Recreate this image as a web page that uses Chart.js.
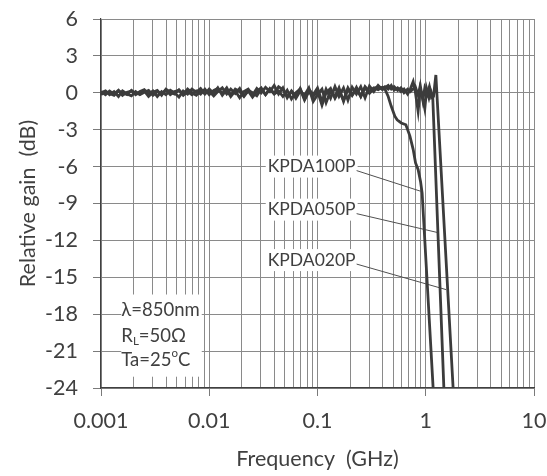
<!DOCTYPE html>
<html>
<head>
<meta charset="utf-8">
<script src="https://cdn.jsdelivr.net/npm/chart.js@4.4.1/dist/chart.umd.min.js"></script>
<style>
  html, body { margin: 0; padding: 0; background: #ffffff; }
  #wrap { width: 547px; height: 476px; }
</style>
</head>
<body>
<div id="wrap"><canvas id="c" width="547" height="476"></canvas></div>
<script>
// ---------------- data ----------------
const seriesNames = ['KPDA020P', 'KPDA050P', 'KPDA100P'];

// shared frequency points of the flat region (GHz)
const freqFlat = [
  0.00100, 0.00110, 0.00120, 0.00132, 0.00145, 0.00158, 0.00174, 0.00191, 0.00209, 0.00229,
  0.00251, 0.00275, 0.00302, 0.00331, 0.00363, 0.00398, 0.00437, 0.00479, 0.00525, 0.00575,
  0.00631, 0.00692, 0.00759, 0.00832, 0.00912,
  0.0100, 0.0110, 0.0120, 0.0132, 0.0145, 0.0158, 0.0174, 0.0191, 0.0209, 0.0229,
  0.0251, 0.0275, 0.0302, 0.0331, 0.0363, 0.0398, 0.0437, 0.0479, 0.0525, 0.0575,
  0.0631, 0.0692, 0.0759, 0.0832, 0.0912,
  0.100, 0.110, 0.120, 0.132, 0.145, 0.158, 0.174, 0.191, 0.209, 0.229,
  0.251, 0.275, 0.302, 0.331, 0.363, 0.398
];

const gainFlat020 = [
  0.1, -0.15, 0.15, -0.1, 0.2, -0.2, 0.05, 0.15, -0.15, 0.1,
  0.25, -0.1, 0.15, -0.3, 0.1, -0.15, 0.2, 0.0, -0.35, 0.15,
  -0.1, 0.3, 0.05, 0.35, -0.1,
  0.3, -0.05, 0.4, -0.2, 0.25, -0.3, 0.15, -0.4, 0.1, 0.3,
  -0.2, 0.35, 0.0, 0.45, 0.1, 0.6, -0.1, 0.4, -0.4, 0.15,
  -0.3, 0.35, -0.5, 0.3, -0.15,
  0.4, -0.7, 0.3, -0.45, 0.5, -0.3, 0.4, -0.6, 0.45, -0.1,
  0.5, -0.4, 0.55, 0.1, 0.6, 0.25
];
const gainFlat050 = [
  0.0, 0.15, -0.15, 0.1, -0.3, 0.15, -0.1, -0.25, 0.1, -0.15,
  0.05, 0.2, -0.2, 0.1, -0.1, 0.25, -0.15, 0.1, 0.2, -0.2,
  0.1, -0.15, 0.15, -0.1, 0.3,
  -0.15, 0.2, 0.35, -0.05, 0.4, -0.2, 0.3, 0.1, -0.3, 0.2,
  0.0, -0.25, 0.3, -0.15, 0.35, -0.05, 0.5, 0.25, -0.3, 0.1,
  -0.45, 0.15, -0.2, 0.4, -0.7,
  -0.15, 0.3, -0.8, 0.15, -0.3, 0.4, -0.7, 0.3, -0.2, 0.45,
  -0.3, 0.4, -0.05, 0.35, 0.5, 0.35
];
const gainFlat100 = [
  -0.15, 0.1, -0.05, -0.2, 0.15, 0.0, -0.15, 0.2, -0.05, -0.1,
  0.15, -0.3, 0.05, 0.2, -0.2, 0.3, 0.05, -0.1, 0.25, -0.15,
  0.3, 0.0, -0.2, 0.15, -0.05,
  0.15, -0.25, 0.1, 0.4, -0.1, 0.3, -0.05, 0.35, -0.25, 0.15,
  -0.35, 0.1, 0.4, -0.15, 0.3, -0.1, 0.15, -0.3, 0.2, -0.5,
  0.0, 0.3, -0.6, 0.1, -0.3,
  0.15, -1.0, 0.0, 0.35, -0.45, 0.15, -0.6, 0.4, -0.2, 0.3,
  -0.3, 0.5, 0.1, 0.4, 0.25, 0.45
];

// roll-off regions, each series its own frequency points
const freqTail020 = [0.420, 0.450, 0.480, 0.510, 0.550, 0.590, 0.630, 0.680, 0.720, 0.765,
                     0.800, 0.850, 0.890, 0.940, 0.980, 1.030, 1.080, 1.130, 1.180, 1.240, 1.790];
const gainTail020 = [0.4, 0.6, 0.3, 0.5, 0.2, 0.4, 0.0, 0.3, 0.1, 0.3,
                     0.5, -0.2, 0.6, -0.6, 0.4, -0.1, 0.5, -0.4, -0.3, 1.45, -24];
const freqTail050 = [0.420, 0.450, 0.480, 0.510, 0.550, 0.590, 0.630, 0.680, 0.720, 0.765,
                     0.800, 0.850, 0.890, 0.930, 0.980, 1.020, 1.070, 1.110, 1.160, 1.470];
const gainTail050 = [0.5, 0.3, 0.6, 0.2, 0.4, 0.1, 0.3, -0.1, 0.3, 0.9,
                     0.1, -1.5, 0.3, -0.3, -1.3, 0.3, -0.4, 0.2, -0.3, -24];
const freqTail100 = [0.420, 0.450, 0.480, 0.518, 0.544, 0.594, 0.655, 0.713, 0.765, 0.805,
                     0.851, 0.895, 0.926, 1.170];
const gainTail100 = [0.3, -0.3, -1.1, -1.9, -2.2, -2.45, -2.6, -3.5, -4.6, -5.7,
                     -6.25, -7.2, -8.15, -24];

// axis ticks
const xDecades = [0.001, 0.01, 0.1, 1, 10];
const xDecadeLabels = ['0.001', '0.01', '0.1', '1', '10'];
const xMinorSteps = [2, 3, 4, 5, 6, 7, 8, 9];
const yMin = -24, yMax = 6, yStep = 3;

// label annotations (data coordinates)
const labelLeftFreq = 0.0347;
const labelGain = [-13.6, -9.5, -6.0];
const leaderFreq = [1.54, 1.27, 0.895];
const leaderGain = [-16.0, -11.35, -8.0];

const condLeftFreq = 0.00154;
const condGain = [-17.7, -19.8, -21.7];
const condLines = [
  [['λ=850nm', 'n']],
  [['R', 'n'], ['L', 'sub'], ['=50Ω', 'n']],
  [['Ta=25', 'n'], ['o', 'sup'], ['C', 'n']]
];

// ---------------- styling ----------------
const FONT = 'Lato, "Open Sans", "DejaVu Sans", sans-serif';
const TEXT = '#404040';
const LINE = '#3c3c3c';
const GRID = '#8a8a8a';
const AXIS_FS = 21.5;
const LABEL_FS = 17.5;
const COND_FS = 18.5;

// x tick list: decades plus minor steps
const xTickValues = [];
xDecades.forEach((d, i) => {
  xTickValues.push(d);
  if (i < xDecades.length - 1) xMinorSteps.forEach(m => xTickValues.push(+(d * m).toPrecision(3)));
});
function decadeIndex(v) {
  return xDecades.findIndex(d => Math.abs(d - v) / d < 1e-6);
}

function makePoints(fFlat, gFlat, fTail, gTail) {
  const pts = fFlat.map((f, i) => ({x: f, y: gFlat[i]}));
  fTail.forEach((f, i) => pts.push({x: f, y: gTail[i]}));
  return pts;
}
const seriesData = [
  makePoints(freqFlat, gainFlat020, freqTail020, gainTail020),
  makePoints(freqFlat, gainFlat050, freqTail050, gainTail050),
  makePoints(freqFlat, gainFlat100, freqTail100, gainTail100)
];

const annot = {
  id: 'annot',
  beforeDatasetsDraw(chart) {
    const {ctx, scales: {x, y}} = chart;
    ctx.save();
    // series labels with leader lines
    ctx.font = `${LABEL_FS}px ${FONT}`;
    ctx.textBaseline = 'middle';
    ctx.textAlign = 'left';
    seriesNames.forEach((name, i) => {
      const lx = x.getPixelForValue(labelLeftFreq);
      const ly = y.getPixelForValue(labelGain[i]);
      const w = ctx.measureText(name).width;
      ctx.fillStyle = '#ffffff';
      ctx.fillRect(lx - 2, ly - 11, w + 4, 22);
      ctx.fillStyle = TEXT;
      ctx.fillText(name, lx, ly);
      ctx.strokeStyle = '#505050';
      ctx.lineWidth = 1;
      ctx.beginPath();
      ctx.moveTo(lx + w + 1, ly + 4);
      ctx.lineTo(x.getPixelForValue(leaderFreq[i]), y.getPixelForValue(leaderGain[i]));
      ctx.stroke();
    });
    // measurement conditions
    const cx = x.getPixelForValue(condLeftFreq);
    const measure = (parts) => parts.reduce((s, [t, k]) => {
      ctx.font = `${k === 'n' ? COND_FS : COND_FS * 0.62}px ${FONT}`;
      return s + ctx.measureText(t).width;
    }, 0);
    const widths = condLines.map(measure);
    const top = y.getPixelForValue(condGain[0]) - 16;
    const bottom = y.getPixelForValue(condGain[condGain.length - 1]) + 17;
    ctx.fillStyle = '#ffffff';
    ctx.fillRect(cx, top, Math.max(...widths) + 2, bottom - top);
    ctx.fillStyle = TEXT;
    condLines.forEach((parts, i) => {
      let px = cx;
      const py = y.getPixelForValue(condGain[i]);
      parts.forEach(([t, k]) => {
        const fs = k === 'n' ? COND_FS : COND_FS * 0.62;
        ctx.font = `${fs}px ${FONT}`;
        const dy = k === 'sub' ? 5 : (k === 'sup' ? -6 : 0);
        ctx.fillText(t, px, py + dy);
        px += ctx.measureText(t).width;
      });
    });
    ctx.restore();
  }
};

new Chart(document.getElementById('c'), {
  type: 'line',
  data: {
    datasets: seriesNames.map((name, i) => ({
      label: name,
      data: seriesData[i],
      borderColor: LINE,
      borderWidth: 2.8,
      pointRadius: 0,
      tension: 0,
      fill: false
    }))
  },
  options: {
    responsive: false,
    animation: false,
    layout: {padding: {top: 19, right: 13, left: 0, bottom: 0}},
    plugins: {legend: {display: false}, tooltip: {enabled: false}},
    scales: {
      x: {
        type: 'logarithmic',
        min: 0.001, max: 10,
        afterBuildTicks: ax => { ax.ticks = xTickValues.map(v => ({value: v, major: decadeIndex(v) >= 0})); },
        afterFit: ax => { ax.height = 88; ax.paddingLeft = 0; ax.paddingRight = 0; },
        ticks: {
          autoSkip: false, maxRotation: 0, minRotation: 0, padding: 12,
          color: TEXT, font: {family: FONT, size: AXIS_FS},
          callback: (v) => { const i = decadeIndex(v); return i >= 0 ? xDecadeLabels[i] : ''; }
        },
        grid: {
          color: GRID, lineWidth: 1, tickLength: 8,
          tickColor: ctx => (ctx.tick && decadeIndex(ctx.tick.value) >= 0) ? '#7a7a7a' : 'rgba(0,0,0,0)'
        },
        border: {color: '#404040', width: 1.2},
        title: {display: true, text: 'Frequency  (GHz)', color: TEXT,
                font: {family: FONT, size: AXIS_FS}, padding: {top: 0, bottom: 4}}
      },
      y: {
        min: yMin, max: yMax,
        afterFit: ax => { ax.width = 101; ax.paddingTop = 0; ax.paddingBottom = 0; },
        ticks: {stepSize: yStep, padding: 15, color: TEXT, font: {family: FONT, size: AXIS_FS}},
        grid: {color: GRID, lineWidth: 1, tickLength: 8, tickColor: '#7a7a7a'},
        border: {color: '#404040', width: 1.2},
        title: {display: true, text: 'Relative gain  (dB)', color: TEXT,
                font: {family: FONT, size: AXIS_FS}, padding: {top: 15, bottom: 0}}
      }
    }
  },
  plugins: [annot]
});
</script>
</body>
</html>
